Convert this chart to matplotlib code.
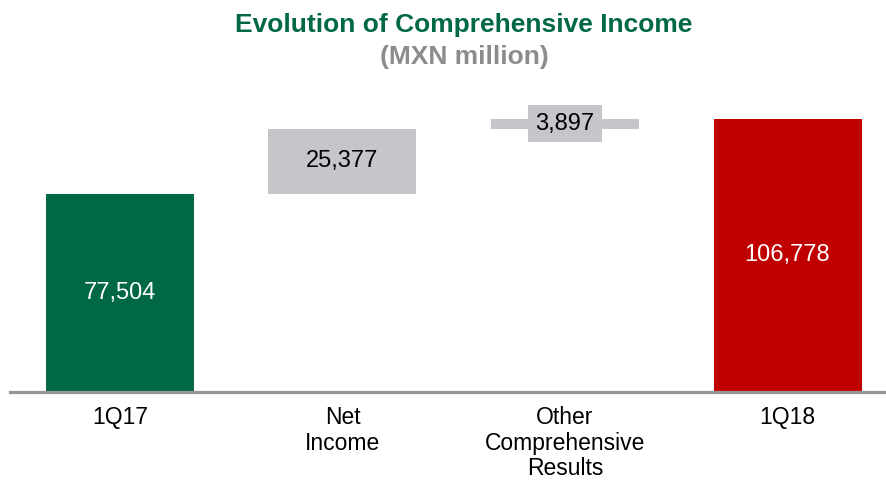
import matplotlib.pyplot as plt

plt.rcParams['font.family'] = ['Liberation Sans', 'DejaVu Sans']

# datos del grafico (MXN million)
categorias = ["1Q17", "Net\nIncome", "Other\nComprehensive\nResults", "1Q18"]
valores = [77504, 25377, 3897, 106778]
etiquetas = ["77,504", "25,377", "3,897", "106,778"]
colores = ["#006747", "#C5C6CA", "#C5C6CA", "#C00000"]

# bases del waterfall
bases = [0, valores[0], valores[0] + valores[1], 0]

fig = plt.figure(figsize=(8.87, 4.83), dpi=100)
ax = fig.add_axes([10 / 887, 1 - 392 / 483, 1 - 10 / 887, 290 / 483])

x = list(range(len(categorias)))
ax.bar(x, valores, bottom=bases, width=0.665, color=colores, zorder=2)

ax.set_xlim(-0.494, 3.447)
ax.set_ylim(0, 77504 * 290 / 198.5)

# etiquetas de valores
for i in x:
    yc = bases[i] + valores[i] / 2
    if i == 0 or i == 3:
        ax.text(i, yc, etiquetas[i], ha="center", va="center", color="white", fontsize=17)
    elif i == 1:
        ax.text(i, yc, etiquetas[i], ha="center", va="center", color="black", fontsize=17)
    else:
        ax.text(i, yc, etiquetas[i], ha="center", va="center", color="black", fontsize=17,
                bbox=dict(boxstyle="square,pad=0.3", fc="#C5C6CA", ec="none"), zorder=3)

ax.set_yticks([])
ax.set_xticks(x)
ax.set_xticklabels(categorias, fontsize=16.5, linespacing=1.15)
ax.tick_params(axis="x", length=0, pad=10)
for s in ["top", "right", "left"]:
    ax.spines[s].set_visible(False)
ax.spines["bottom"].set_color("#969696")
ax.spines["bottom"].set_linewidth(2.3)

fig.text(464 / 887, 1 - 25 / 483, "Evolution of Comprehensive Income", ha="center", va="center",
         color="#006747", fontsize=19, fontweight="bold")
fig.text(464 / 887, 1 - 57 / 483, "(MXN million)", ha="center", va="center",
         color="#8C8C8C", fontsize=19, fontweight="bold")

plt.savefig("out.png", dpi=100)
